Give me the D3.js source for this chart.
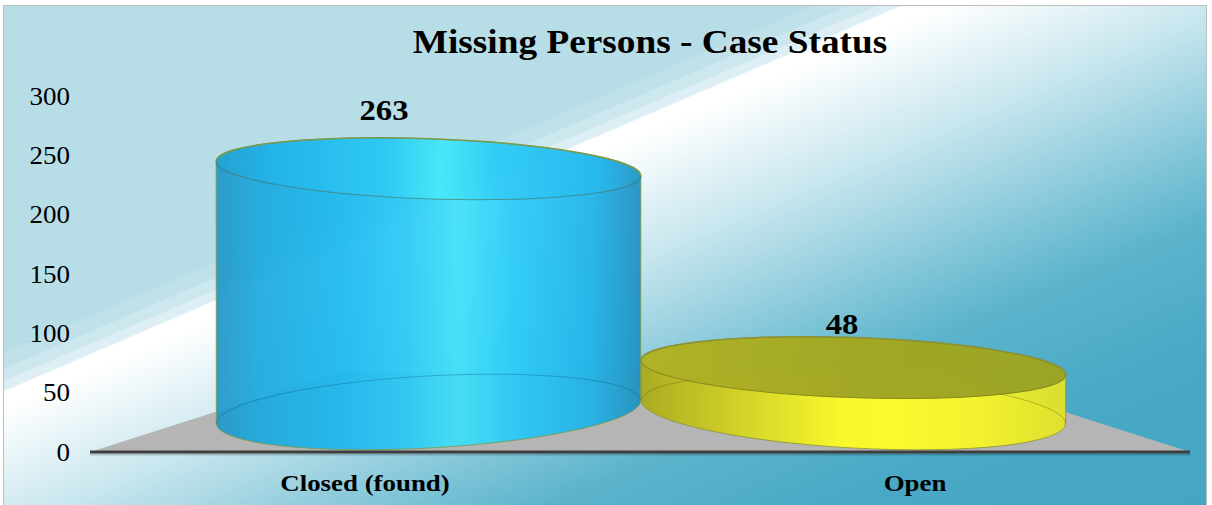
<!DOCTYPE html>
<html>
<head>
<meta charset="utf-8">
<script src="https://cdn.jsdelivr.net/npm/d3@7"></script>
<style>
body { margin: 0; background: #fff; }
svg { display: block; font-family: "Liberation Serif", "Times New Roman", serif; }
</style>
</head>
<body>
<svg width="1212" height="505"></svg>
<script>
var categories = ["Closed (found)", "Open"];
var values = [263, 48];
var yTicks = [0, 50, 100, 150, 200, 250, 300];
var title = "Missing Persons - Case Status";

var svg = d3.select("svg"),
    defs = svg.append("defs");

var vanishX = 640,      // centre the floor narrows towards
    floorFront = 452,
    floorBack = 372,
    barBaseY = 412;

var y = d3.scaleLinear().domain([0, 300]).range([floorFront, 96]),
    xFront = d3.scaleBand().domain(categories).range([90, 1190]),
    xBar = d3.scaleBand().domain(categories).range([216, 1066]),
    xLab = d3.scaleBand().domain(categories).range([155, 1071]),
    hBar = d3.scaleLinear().domain([0, 300]).range([0, 277.5]),
    yLab = d3.scaleLinear().domain([0, 300]).range([382, 83.5]);

var styles = [
  { side: [[0,"#2396c6"],[0.1,"#1ca9dd"],[0.3,"#1cb9ef"],[0.45,"#2ac9f5"],[0.57,"#3ee0f8"],[0.7,"#27caf8"],[0.88,"#1eb3e8"],[1,"#1f8fbf"]],
    top:  [[0,"#1f9fd0"],[0.15,"#1db4ea"],[0.4,"#2ac8f3"],[0.53,"#44e8f7"],[0.66,"#2ccbf6"],[0.9,"#1fb6ec"],[1,"#2596c4"]],
    rim: "#7c9a45", inner: "rgba(0,70,120,0.3)" },
  { side: [[0,"#a9a918"],[0.12,"#c0c01a"],[0.3,"#e0e020"],[0.47,"#fcfc22"],[0.6,"#ffff26"],[0.8,"#f6f624"],[1,"#e2e226"]],
    top:  [[0,"#b2b220"],[0.5,"#a2a71e"],[1,"#9ea41f"]],
    rim: "#8c9234", inner: "rgba(110,110,0,0.45)" }
];

// the source renders its serif text a little wider than Liberation Serif
function stretch(sel, f) {
  sel.each(function() {
    var len = this.getComputedTextLength();
    d3.select(this).attr("textLength", len * f).attr("lengthAdjust", "spacingAndGlyphs");
  });
}

/* background with the diagonal light streak */
var bg = defs.append("linearGradient").attr("id", "bg")
    .attr("gradientUnits", "userSpaceOnUse")
    .attr("x1", 0).attr("y1", 0).attr("x2", 372).attr("y2", 866);
[[0,"#b7dde7"],[0.345,"#b7dde7"],[0.347,"#c0e1ea"],[0.36,"#c0e1ea"],[0.362,"#cce7ee"],[0.372,"#cce7ee"],[0.374,"#ddeff4"],[0.382,"#ddeff4"],
 [0.384,"#ffffff"],[0.40,"#ffffff"],[0.52,"#c8e6ee"],[0.65,"#80c5d8"],[0.72,"#5cb4cc"],[0.85,"#48a8c5"],[1,"#45a6c3"]]
  .forEach(function(s) { bg.append("stop").attr("offset", s[0]).attr("stop-color", s[1]); });

svg.append("rect")
    .attr("x", 3.5).attr("y", 5.5).attr("width", 1203).attr("height", 520)
    .attr("fill", "url(#bg)").attr("stroke", "#bdbdbd");

svg.append("text")
    .attr("x", 650).attr("y", 53)
    .attr("text-anchor", "middle")
    .style("font-weight", "bold").style("font-size", "33px")
    .text(title)
    .call(stretch, 1.13);

/* floor */
var k = (vanishX - 340) / (vanishX - 90);
function backX(x) { return vanishX + (x - vanishX) * k; }
var r0 = xFront.range()[0], r1 = xFront.range()[1];
svg.append("path")
    .attr("d", d3.line()([[r0, floorFront], [backX(r0), floorBack], [backX(r1), floorBack], [r1, floorFront]]) + "Z")
    .attr("fill", "#b5b5b5");

/* y axis */
var yAxis = d3.axisLeft(y).tickValues(yTicks).tickSize(0).tickPadding(0);
var yG = svg.append("g").attr("transform", "translate(70,0)").call(yAxis);
yG.select(".domain").remove();
yG.selectAll("text").style("font-size", "25px").style("font-family", "Liberation Serif").attr("fill", "#000")
    .call(stretch, 1.08);

/* cylinders */
function pt(cx, cy, rx, rot, sign) {
  var r = rot * Math.PI / 180;
  return [cx + sign * rx * Math.cos(r), cy + sign * rx * Math.sin(r)];
}

categories.forEach(function(cat, i) {
  var st = styles[i],
      rx = xBar.bandwidth() / 2,
      cx = xBar(cat) + rx,
      cyB = barBaseY,
      cyT = barBaseY - hBar(values[i]),
      ryB = 36, ryT = 30,
      rotB = (cx - vanishX) * 0.015, rotT = 2;

  var gs = defs.append("linearGradient").attr("id", "side" + i)
      .attr("gradientUnits", "userSpaceOnUse")
      .attr("x1", cx - rx).attr("x2", cx + rx).attr("y1", 0).attr("y2", 0);
  st.side.forEach(function(s) { gs.append("stop").attr("offset", s[0]).attr("stop-color", s[1]); });
  var gt = defs.append("linearGradient").attr("id", "top" + i)
      .attr("gradientUnits", "userSpaceOnUse")
      .attr("x1", cx - rx).attr("x2", cx + rx).attr("y1", 0).attr("y2", 0);
  st.top.forEach(function(s) { gt.append("stop").attr("offset", s[0]).attr("stop-color", s[1]); });

  var lb = pt(cx, cyB, rx, rotB, -1), rb = pt(cx, cyB, rx, rotB, 1),
      lt = pt(cx, cyT, rx, rotT, -1), rt = pt(cx, cyT, rx, rotT, 1);

  var g = svg.append("g");

  var side = "M" + lt + "L" + lb +
      "A" + rx + "," + ryB + " " + rotB + " 0 0 " + rb +
      "L" + rt +
      "A" + rx + "," + ryT + " " + rotT + " 0 1 " + lt + "Z";

  g.append("path").attr("d", side)
      .attr("fill", "url(#side" + i + ")").attr("fill-opacity", 0.93)
      .attr("stroke", st.rim).attr("stroke-width", 1).attr("stroke-opacity", 0.8);

  // back half of the base, seen through the body
  g.append("path")
      .attr("d", "M" + lb + "A" + rx + "," + ryB + " " + rotB + " 0 1 " + rb)
      .attr("fill", "none").attr("stroke", st.inner).attr("stroke-width", 1);

  g.append("ellipse")
      .attr("cx", cx).attr("cy", cyT).attr("rx", rx).attr("ry", ryT)
      .attr("transform", "rotate(" + rotT + "," + cx + "," + cyT + ")")
      .attr("fill", "url(#top" + i + ")").attr("fill-opacity", 0.96)
      .attr("stroke", st.inner).attr("stroke-width", 1);

  g.append("path")
      .attr("d", "M" + lt + "A" + rx + "," + ryT + " " + rotT + " 0 1 " + rt)
      .attr("fill", "none").attr("stroke", st.rim).attr("stroke-width", 1.5);

  svg.append("text")
      .attr("x", xLab(cat) + xLab.bandwidth() / 2)
      .attr("y", yLab(values[i]))
      .attr("text-anchor", "middle")
      .style("font-weight", "bold").style("font-size", "30px")
      .text(values[i])
      .call(stretch, 1.09);
});

/* base line */
svg.append("line")
    .attr("x1", r0).attr("x2", r1).attr("y1", floorFront + 2.5).attr("y2", floorFront + 2.5)
    .attr("stroke", "rgba(0,0,0,0.18)").attr("stroke-width", 2);
svg.append("line")
    .attr("x1", r0).attr("x2", r1).attr("y1", floorFront).attr("y2", floorFront)
    .attr("stroke", "#3e3e3e").attr("stroke-width", 3);

/* category labels */
var xAxis = d3.axisBottom(xFront).tickSize(0).tickPadding(22);
var xG = svg.append("g").attr("transform", "translate(0," + floorFront + ")").call(xAxis);
xG.select(".domain").remove();
xG.selectAll("text").style("font-size", "24px").style("font-weight", "bold")
    .style("font-family", "Liberation Serif").attr("fill", "#000")
    .call(stretch, 1.12);
</script>
</body>
</html>
